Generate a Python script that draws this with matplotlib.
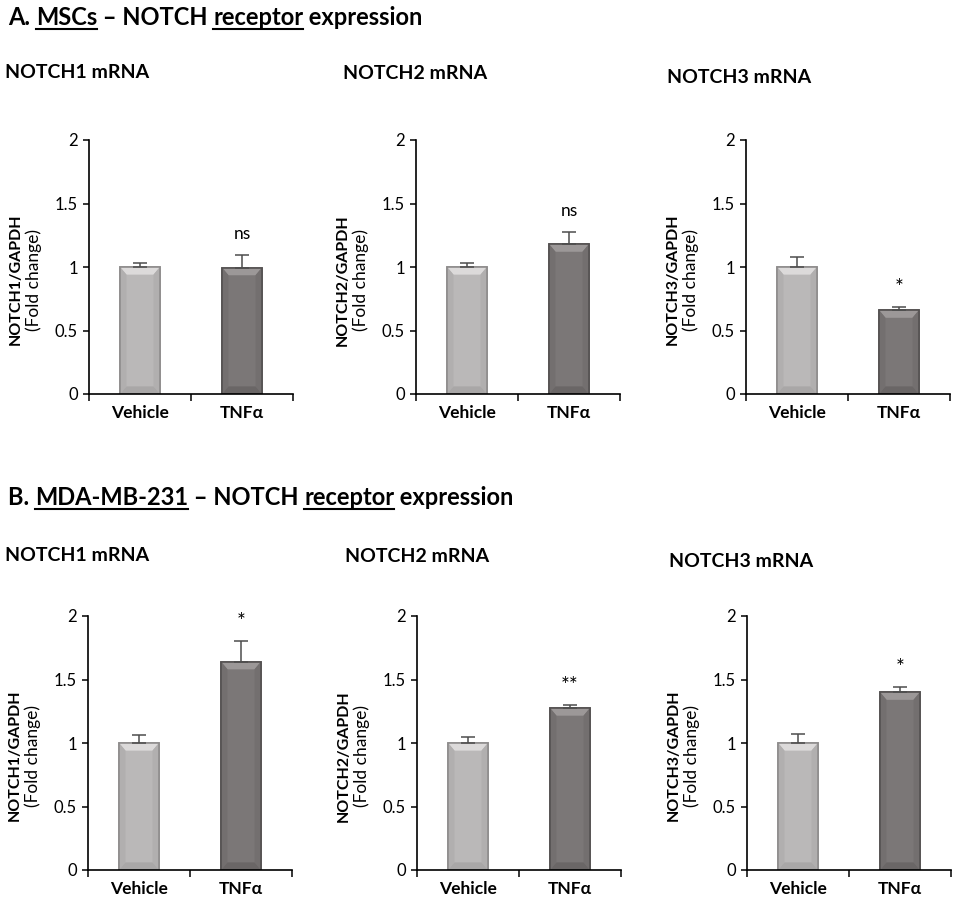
import numpy as np
import matplotlib
matplotlib.use("Agg")
import matplotlib.pyplot as plt
from matplotlib.lines import Line2D
from matplotlib.patches import Polygon

plt.rcParams['font.family'] = ['Lato', 'DejaVu Sans']

W, H = 957, 899

# data
groups = ['Vehicle', 'TNFα']
genes = ['NOTCH1', 'NOTCH2', 'NOTCH3']

msc_mean = [[1.00, 0.995], [1.00, 1.18], [1.00, 0.66]]
msc_err = [[0.035, 0.10], [0.035, 0.095], [0.08, 0.025]]
msc_sig = ['ns', 'ns', '*']

mda_mean = [[1.00, 1.64], [1.00, 1.275], [1.00, 1.40]]
mda_err = [[0.06, 0.165], [0.045, 0.025], [0.07, 0.04]]
mda_sig = ['*', '**', '*']

yticks = [0, 0.5, 1, 1.5, 2]
ytick_labels = ['0', '0.5', '1', '1.5', '2']

bar_colors = ['#bab8b8', '#7b7777']
edge_colors = ['#8f8d8d', '#555252']
bevel_top = ['#dcdada', '#9c9898']
bevel_side = ['#b1afaf', '#736f6f']
bevel_bot = ['#a9a7a7', '#6a6666']


def fx(x):
    return x / W


def fy(y):
    return 1 - y / H


fig = plt.figure(figsize=(W / 100, H / 100), dpi=100)
renderer = fig.canvas.get_renderer()


def heading(x, y, parts, size):
    # draw text piece by piece so some words can be underlined
    for txt, ul in parts:
        t = fig.text(fx(x), fy(y), txt, fontsize=size, fontweight='bold',
                     va='baseline', ha='left')
        bb = t.get_window_extent(renderer)
        if ul:
            fig.add_artist(Line2D([bb.x0 / W, bb.x1 / W],
                                  [fy(y + 4), fy(y + 4)],
                                  color='black', lw=1.5))
        x = bb.x1


def bevel(ax, bars):
    # excel-like bevel: light chevron at top, darker strips on sides/bottom
    for k, p in enumerate(bars.patches):
        x0, w, h = p.get_x(), p.get_width(), p.get_height()
        dx, dy = w * 0.16, min(0.06, h * 0.3)
        pts = {
            'top': [(x0, h), (x0 + w, h), (x0 + w - dx, h - dy), (x0 + dx, h - dy)],
            'left': [(x0, h), (x0 + dx, h - dy), (x0 + dx, dy), (x0, 0)],
            'right': [(x0 + w, h), (x0 + w - dx, h - dy), (x0 + w - dx, dy), (x0 + w, 0)],
            'bot': [(x0, 0), (x0 + w, 0), (x0 + w - dx, dy), (x0 + dx, dy)],
        }
        cols = {'top': bevel_top[k], 'left': bevel_side[k],
                'right': bevel_side[k], 'bot': bevel_bot[k]}
        for key, poly in pts.items():
            ax.add_patch(Polygon(poly, closed=True, facecolor=cols[key],
                                 edgecolor='none', zorder=2.1))
        ax.add_patch(Polygon([(x0, 0), (x0, h), (x0 + w, h), (x0 + w, 0)],
                             closed=True, fill=False,
                             edgecolor=edge_colors[k], lw=1.2, zorder=2.2))


def panel(left, top, bottom, title_xy, gene, means, errs, sig):
    ax = fig.add_axes([fx(left), fy(bottom), 204 / W, (bottom - top) / H])
    x = np.arange(len(groups))
    bars = ax.bar(x, means, width=0.39, color=bar_colors,
                  edgecolor=edge_colors, linewidth=1.2, zorder=2)
    bevel(ax, bars)
    ax.errorbar(x, means, yerr=[np.zeros(len(errs)), errs], fmt='none',
                ecolor='#4d4d4d', elinewidth=1.1, capsize=5, capthick=1.1,
                zorder=3)
    top_val = means[1] + errs[1]
    if '*' in sig:
        ax.text(1, top_val + 0.07, sig, ha='center', va='bottom',
                fontsize=15)
    else:
        ax.text(1, top_val + 0.1, sig, ha='center', va='bottom',
                fontsize=12.5)

    ax.set_xlim(-0.5, 1.5)
    ax.set_ylim(0, 2)
    ax.set_yticks(yticks)
    ax.set_yticklabels(ytick_labels, fontsize=12)
    ax.set_xticks([-0.5, 0.5, 1.5])
    ax.set_xticklabels([])
    ax.set_xticks(x, minor=True)
    ax.set_xticklabels(groups, minor=True, fontsize=12.5, fontweight='bold')
    ax.tick_params(axis='x', which='minor', length=0, pad=8)
    ax.tick_params(axis='x', which='major', length=5, width=1.1,
                   direction='out')
    ax.tick_params(axis='y', length=4, width=1.1, direction='out', pad=4)
    for s in ['top', 'right']:
        ax.spines[s].set_visible(False)
    for s in ['left', 'bottom']:
        ax.spines[s].set_linewidth(1.2)

    ax.text(-0.36, 0.45, gene + '/GAPDH', transform=ax.transAxes,
            rotation=90, ha='center', va='center', fontsize=11.5,
            fontweight='bold')
    ax.text(-0.27, 0.45, '(Fold change)', transform=ax.transAxes,
            rotation=90, ha='center', va='center', fontsize=12.5)

    fig.text(fx(title_xy[0]), fy(title_xy[1]), gene + ' mRNA',
             fontsize=14, fontweight='bold', va='baseline', ha='left')
    return ax


heading(8, 25, [('A. ', False), ('MSCs', True), (' – NOTCH ', False),
                ('receptor', True), (' expression', False)], 17)
heading(8, 505, [('B. ', False), ('MDA-MB-231', True), (' – NOTCH ', False),
                 ('receptor', True), (' expression', False)], 17)

top_lefts = [89, 416, 746]
top_titles = [(5, 78), (343, 79), (667, 83)]
for i in range(3):
    panel(top_lefts[i], 140, 394, top_titles[i], genes[i],
          msc_mean[i], msc_err[i], msc_sig[i])

bot_lefts = [88, 417, 747]
bot_titles = [(5, 561), (345, 562), (669, 567)]
for i in range(3):
    panel(bot_lefts[i], 616, 870, bot_titles[i], genes[i],
          mda_mean[i], mda_err[i], mda_sig[i])

fig.savefig('out.png', dpi=100)
